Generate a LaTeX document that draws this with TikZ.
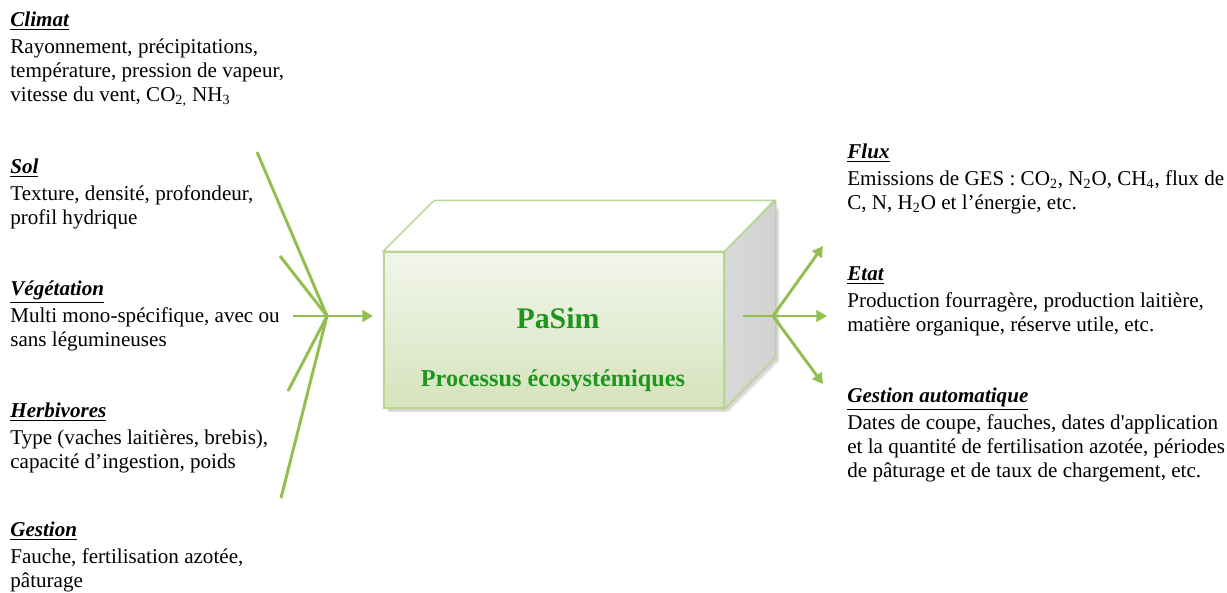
\documentclass[tikz,border=0pt]{standalone}
\usepackage{fontspec}
\setmainfont{Liberation Serif}
\newfontfamily\nomapfont[Ligatures=TeXOff]{Liberation Serif}
\usetikzlibrary{arrows.meta}
\definecolor{arrowgreen}{RGB}{146,192,80}
\definecolor{boxedge}{RGB}{184,214,146}
\definecolor{facetop}{RGB}{242,245,236}
\definecolor{facebot}{RGB}{214,227,188}
\definecolor{sideface}{RGB}{210,210,210}
\definecolor{titlegreen}{RGB}{28,150,28}
\tikzset{
  body/.style={anchor=north west, inner sep=0pt, align=left,
    font=\fontsize{12}{13.8}\selectfont},
  link/.style={draw=arrowgreen, line width=1.7pt},
  linkarrow/.style={link, -{Triangle[length=6pt,width=6.5pt]}},
}
\newcommand{\ttl}[1]{\underline{\textbf{\textit{#1}}}}
\begin{document}
\begin{tikzpicture}[x=0.02cm,y=-0.02cm]
\useasboundingbox (0,0) rectangle (1227,592);
% ---- left texts
\node[body] (climat) at (10,9) {\strut\ttl{Climat}\\[1.5pt]
  Rayonnement, précipitations,\\
  température, pression de vapeur,\\
  vitesse du vent, CO\textsubscript{2,} NH\textsubscript{3}};
\node[body] (sol) at (10,156) {\strut\ttl{Sol}\\[1.5pt]
  Texture, densité, profondeur,\\
  profil hydrique};
\node[body] (veg) at (10,278) {\strut\ttl{Végétation}\\[1.5pt]
  Multi mono-spécifique, avec ou\\
  sans légumineuses};
\node[body] (herb) at (10,400) {\strut\ttl{Herbivores}\\[1.5pt]
  Type (vaches laitières, brebis),\\
  capacité d’ingestion, poids};
\node[body] (gest) at (10,519) {\strut\ttl{Gestion}\\[1.5pt]
  Fauche, fertilisation azotée,\\
  pâturage};
% ---- right texts
\node[body] (flux) at (847,141) {\strut\ttl{Flux}\\[1.5pt]
  Emissions de GES : CO\textsubscript{2}, N\textsubscript{2}O, CH\textsubscript{4}, flux de\\
  C, N, H\textsubscript{2}O et l’énergie, etc.};
\node[body] (etat) at (847,263) {\strut\ttl{Etat}\\[1.5pt]
  Production fourragère, production laitière,\\
  matière organique, réserve utile, etc.};
\node[body] (gauto) at (847,385) {\strut\ttl{Gestion automatique}\\[1.5pt]
  Dates de coupe, fauches, dates d{\nomapfont'}application\\
  et la quantité de fertilisation azotée, périodes\\
  de pâturage et de taux de chargement, etc.};
% ---- the box
\fill[black, opacity=0.12] (388,258) -- (728,258) -- (779,207) -- (779,361) -- (728,412) -- (388,412) -- cycle;
\fill[black, opacity=0.08] (386,255) -- (726,255) -- (777,204) -- (777,359) -- (726,410) -- (386,410) -- cycle;
\node[draw=boxedge, line width=0.8pt, top color=facetop, bottom color=facebot,
  minimum width=340*0.02cm, minimum height=156*0.02cm, inner sep=0pt] (pasim) at (554,330) {};
\draw[boxedge, line width=0.8pt, fill=white!97!facetop]
  (pasim.north west) -- ++(51,-51) -- ++(340,0) -- (pasim.north east) -- cycle;
\draw[boxedge, line width=0.8pt, left color=sideface!85!white, right color=sideface]
  (pasim.north east) -- ++(51,-51) -- ++(0,156) -- (pasim.south east) -- cycle;
\node[text=titlegreen, font=\fontsize{17}{20}\selectfont\bfseries] (name) at (558,318) {PaSim};
\node[text=titlegreen, font=\fontsize{13.8}{16}\selectfont\bfseries] (proc) at (553,381) {Processus écosystémiques};
% ---- left connectors
\coordinate (cin) at (327,316);
\coordinate (s1) at (257,152);
\coordinate (s2) at (280,256);
\coordinate (s3) at (293,316);
\coordinate (s4) at (288,391);
\coordinate (s5) at (281,498);
\coordinate (tin) at (373,316);
\draw[link] (s1) -- (cin);
\draw[link] (s2) -- (cin);
\draw[link] (s4) -- (cin);
\draw[link] (s5) -- (cin);
\draw[linkarrow] (s3) -- (tin);
% ---- right connectors
\coordinate (r0) at (743,316);
\coordinate (cout) at (773,316);
\coordinate (t1) at (823,246);
\coordinate (t2) at (827,316);
\coordinate (t3) at (823,384);
\draw[link] (r0) -- (cout);
\draw[linkarrow] (cout) -- (t1);
\draw[linkarrow] (cout) -- (t2);
\draw[linkarrow] (cout) -- (t3);
\end{tikzpicture}
\end{document}
